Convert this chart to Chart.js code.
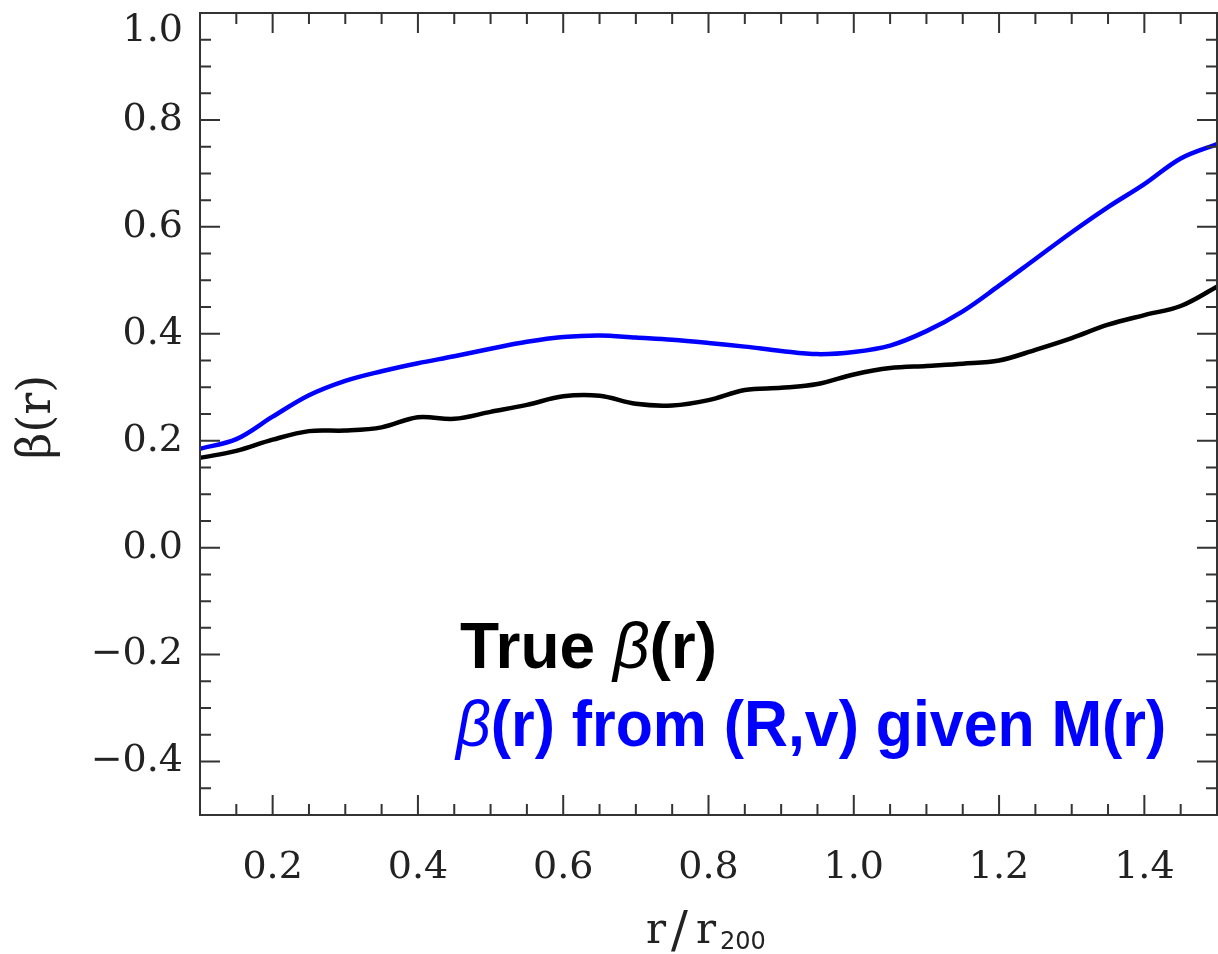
<!DOCTYPE html>
<html>
<head>
<meta charset="utf-8">
<script src="https://cdn.jsdelivr.net/npm/chart.js@4"></script>
<style>
    html, body { margin: 0; padding: 0; background: #fff; }
    canvas { display: block; }
</style>
</head>
<body>
<canvas id="betaChart" width="1218" height="954"></canvas>
<script>
// r / r200 sample positions
const radii = [0.10, 0.15, 0.20, 0.25, 0.30, 0.35, 0.40, 0.45, 0.50, 0.55,
               0.60, 0.65, 0.70, 0.75, 0.80, 0.85, 0.90, 0.95, 1.00, 1.05,
               1.10, 1.15, 1.20, 1.25, 1.30, 1.35, 1.40, 1.45, 1.50];

// true anisotropy profile (black)
const betaTrue = [0.168, 0.181, 0.202, 0.218, 0.219, 0.225, 0.244, 0.241, 0.254, 0.267,
                  0.283, 0.284, 0.269, 0.266, 0.276, 0.295, 0.299, 0.306, 0.324, 0.336,
                  0.340, 0.344, 0.350, 0.370, 0.392, 0.417, 0.435, 0.452, 0.488];

// recovered profile from (R,v) given M(r) (blue)
const betaRecovered = [0.185, 0.203, 0.245, 0.285, 0.312, 0.330, 0.345, 0.358, 0.372, 0.385,
                       0.394, 0.397, 0.393, 0.389, 0.383, 0.376, 0.368, 0.362, 0.366, 0.378,
                       0.405, 0.442, 0.490, 0.540, 0.590, 0.637, 0.680, 0.728, 0.755];

// labelled ticks
const xTickValues = [0.2, 0.4, 0.6, 0.8, 1.0, 1.2, 1.4];
const yTickValues = [-0.4, -0.2, 0.0, 0.2, 0.4, 0.6, 0.8, 1.0];

const xRange = [0.1, 1.5];
const yRange = [-0.5, 1.0];
const majorStep = 0.2;
const minorStep = 0.05;

const tickFont = { family: '"DejaVu Serif", serif', size: 38 };
const axisColor = '#333';

function isMajor(v) {
    return Math.abs(v / majorStep - Math.round(v / majorStep)) < 1e-6;
}

function fmt(v) {
    return v.toFixed(1).replace('-', '\u2212');
}

// frame + inward ticks on all four sides, y tick labels
const framePlugin = {
    id: 'frame',
    afterDatasetsDraw(chart) {
        const { ctx, chartArea: a, scales } = chart;
        ctx.save();
        ctx.strokeStyle = axisColor;
        ctx.lineWidth = 2;
        ctx.strokeRect(a.left, a.top, a.right - a.left, a.bottom - a.top);
        ctx.beginPath();
        const nx = Math.round((xRange[1] - xRange[0]) / minorStep);
        for (let i = 0; i <= nx; i++) {
            const v = xRange[0] + i * minorStep;
            const px = scales.x.getPixelForValue(v);
            const len = isMajor(v) ? 20 : 11;
            ctx.moveTo(px, a.bottom); ctx.lineTo(px, a.bottom - len);
            ctx.moveTo(px, a.top); ctx.lineTo(px, a.top + len);
        }
        const ny = Math.round((yRange[1] - yRange[0]) / minorStep);
        for (let i = 0; i <= ny; i++) {
            const v = yRange[0] + i * minorStep;
            const py = scales.y.getPixelForValue(v);
            const len = isMajor(v) ? 20 : 11;
            ctx.moveTo(a.left, py); ctx.lineTo(a.left + len, py);
            ctx.moveTo(a.right, py); ctx.lineTo(a.right - len, py);
        }
        ctx.stroke();

        // y labels, the top one pushed down to stay on the canvas
        ctx.fillStyle = '#222';
        ctx.font = tickFont.size + 'px ' + tickFont.family;
        ctx.textAlign = 'right';
        ctx.textBaseline = 'middle';
        yTickValues.forEach(v => {
            const py = Math.max(scales.y.getPixelForValue(v), 31);
            ctx.fillText(fmt(v), a.left - 17, py);
        });
        ctx.restore();
    }
};

// axis titles and the in-plot labels (mixed fonts, so drawn by hand)
const labelsPlugin = {
    id: 'labels',
    afterDraw(chart) {
        const { ctx } = chart;
        ctx.save();
        ctx.textBaseline = 'alphabetic';
        ctx.textAlign = 'left';

        const bold = 'bold 64px "Liberation Sans", Arial, sans-serif';
        const ital = 'italic 64px "Liberation Sans", Arial, sans-serif';
        function drawRuns(runs, x, y, color, squeeze) {
            ctx.save();
            ctx.translate(x, y);
            ctx.scale(squeeze, 1);
            ctx.fillStyle = color;
            let cx = 0;
            runs.forEach(r => {
                ctx.font = r[1];
                ctx.fillText(r[0], cx, 0);
                cx += ctx.measureText(r[0]).width;
            });
            ctx.restore();
        }
        drawRuns([['True ', bold], ['\u03b2', ital], ['(r)', bold]], 460, 668, '#000', 1);
        drawRuns([['\u03b2', ital], ['(r) from (R,v) given M(r)', bold]], 456, 746, '#0000ff', 0.95);

        // x title r/r200
        ctx.fillStyle = '#222';
        ctx.font = '42px "DejaVu Serif", serif';
        ctx.fillText('r', 646, 943);
        ctx.font = '50px "DejaVu Serif", serif';
        ctx.fillText('/', 671, 947);
        ctx.font = '42px "DejaVu Serif", serif';
        ctx.fillText('r', 696, 943);
        ctx.font = '24px "DejaVu Sans", sans-serif';
        ctx.fillText('200', 720, 949);

        // y title beta(r)
        ctx.translate(50, 417);
        ctx.rotate(-Math.PI / 2);
        ctx.textAlign = 'center';
        ctx.font = '46px "DejaVu Serif", serif';
        ctx.fillText('\u03b2(r)', 0, 0);
        ctx.restore();
    }
};

function toPoints(ys) {
    return radii.map((r, i) => ({ x: r, y: ys[i] }));
}

const ctx = document.getElementById('betaChart').getContext('2d');
new Chart(ctx, {
    type: 'line',
    data: {
        datasets: [{
            label: 'True beta(r)',
            data: toPoints(betaTrue),
            borderColor: '#000',
            borderWidth: 4.5,
            pointRadius: 0,
            tension: 0.35,
            fill: false
        }, {
            label: 'beta(r) from (R,v) given M(r)',
            data: toPoints(betaRecovered),
            borderColor: '#0000ff',
            borderWidth: 4.5,
            pointRadius: 0,
            tension: 0.35,
            fill: false
        }]
    },
    options: {
        responsive: false,
        animation: false,
        devicePixelRatio: 1,
        layout: { padding: { top: 13, right: 1, left: 0, bottom: 0 } },
        plugins: {
            legend: { display: false },
            tooltip: { enabled: false }
        },
        scales: {
            x: {
                type: 'linear',
                min: xRange[0],
                max: xRange[1],
                grid: { display: false, drawTicks: false },
                border: { display: false },
                afterBuildTicks: scale => {
                    scale.ticks = xTickValues.map(v => ({ value: v }));
                },
                ticks: {
                    autoSkip: false,
                    maxRotation: 0,
                    padding: 30,
                    color: '#222',
                    font: tickFont,
                    callback: v => fmt(v)
                },
                afterFit: scale => {
                    scale.height = 139;
                    scale.paddingLeft = 0;
                    scale.paddingRight = 0;
                }
            },
            y: {
                type: 'linear',
                min: yRange[0],
                max: yRange[1],
                grid: { display: false, drawTicks: false },
                border: { display: false },
                ticks: { display: false },
                afterFit: scale => {
                    scale.width = 200;
                    scale.paddingTop = 0;
                    scale.paddingBottom = 0;
                }
            }
        }
    },
    plugins: [framePlugin, labelsPlugin]
});
</script>
</body>
</html>
